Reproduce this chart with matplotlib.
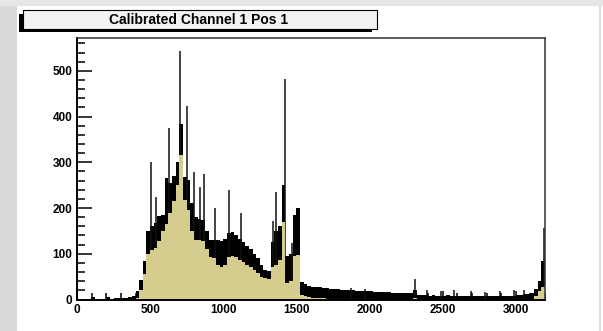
import numpy as np
import matplotlib
matplotlib.use("Agg")
import matplotlib.pyplot as plt
from matplotlib.patches import Rectangle
from matplotlib.ticker import MultipleLocator

# ===================================
# data (25-unit bins from 0 to 3200)
# ===================================
title = "Calibrated Channel 1 Pos 1"
bin_width = 25

# top of the black (fluctuating) band
upper = [0, 0, 0, 0, 5, 0, 0, 0, 6, 0,
         3, 3, 4, 4, 5, 8,
         18, 43, 85, 150,
         160, 168, 182, 185, 265, 255, 270, 300, 383, 269,
         262, 210, 180, 175, 174, 150, 130, 130, 130, 128,
         132, 145, 148, 142, 132, 125, 118, 110, 100, 90,
         75, 65, 62, 125, 150, 160, 250, 95, 100, 185,
         200, 38, 33, 30,
         28, 27, 27, 26, 25, 24, 23,
         22, 21, 21, 20, 20, 19, 19, 18, 18, 18,
         17, 17, 16, 16, 16, 15, 15, 15, 14, 14, 14,
         20,
         10, 9, 9, 8, 9, 8, 8, 8, 9, 8, 8, 7, 8, 8, 7,
         8, 8, 8, 7, 8, 7, 8, 8, 7, 8, 7, 8, 9, 10, 11,
         12, 15, 22, 40, 85]

# top of the filled (khaki) part
lower = [0, 0, 0, 0, 0, 0, 0, 0, 0, 0,
         0, 0, 0, 0, 0, 0,
         3, 20, 55, 100,
         108, 112, 128, 150, 165, 190, 215, 250, 317, 218,
         196, 150, 130, 130, 128, 110, 94, 90, 75, 72,
         75, 92, 95, 92, 87, 82, 75, 70, 65, 58,
         50, 47, 45, 70, 75, 87, 170, 35, 40, 95,
         98, 10, 8, 5,
         4, 4, 3, 3, 2, 2, 2,
         1, 1, 1, 1, 1, 1, 1, 1, 1, 1,
         0, 0, 0, 0, 0, 0, 0, 0, 0, 0, 0,
         4,
         0, 0, 0, 0, 0, 0, 0, 0, 0, 0, 0, 0, 0, 0, 0,
         0, 0, 0, 0, 0, 0, 0, 0, 0, 0, 0, 0, 0, 0, 0,
         0, 0, 8, 18, 27]

# single-bin spikes
spike_x = [100, 205, 505, 540, 629, 704, 750, 802, 841, 868, 944, 1042, 1121,
           1342, 1361, 1423, 1470, 1875, 1970, 2312, 2396, 2491, 2580, 2694,
           2792, 2892, 2990, 3058, 3192]
spike_y = [6, 6, 300, 225, 375, 543, 423, 278, 247, 275, 200, 240, 190,
           171, 236, 483, 124, 26, 24, 45, 20, 18, 20, 18,
           17, 18, 20, 20, 156]

x_max = 3200
y_max = 572

edges = np.arange(len(upper) + 1) * bin_width
khaki = "#d4cd8e"

# ===================================
# figure
# ===================================
W, H = 603, 331
fig = plt.figure(figsize=(W / 100, H / 100), dpi=100)
fig.patch.set_facecolor("white")


def box(x0, y0, x1, y1, **kw):
    # pixel box (top-left origin) -> figure rectangle
    r = Rectangle((x0 / W, 1 - y1 / H), (x1 - x0) / W, (y1 - y0) / H,
                  transform=fig.transFigure, **kw)
    fig.patches.append(r)
    return r


# canvas frame bits
box(0, 0, 17, H, facecolor="#dadada", edgecolor="none", zorder=0)
box(0, 0, W, 6, facecolor="#e6e6e6", edgecolor="none", zorder=0)
box(599, 6, 601, H, facecolor="#dcdcdc", edgecolor="none", zorder=0)

# title box with shadow
box(19, 13.5, 372, 31.5, facecolor="black", edgecolor="none", zorder=1)
box(23, 9.6, 377, 29, facecolor="#f2f2f2", edgecolor="black", lw=0.8, zorder=2)
fig.text(199 / W, 1 - 19.5 / H, title, ha="center", va="center",
         fontsize=10, fontweight="bold", family="Liberation Sans", zorder=3)

ax = fig.add_axes([77 / W, 1 - 299.5 / H, (545 - 77) / W, (299.5 - 38) / H])

ax.stairs(upper, edges, fill=True, color="black", lw=0, zorder=1)
ax.vlines(spike_x, 0, spike_y, color="#111111", lw=1.1, zorder=1.5)
ax.stairs(lower, edges, fill=True, color=khaki, lw=0, zorder=2)

ax.set_xlim(0, x_max)
ax.set_ylim(0, y_max)

ax.xaxis.set_major_locator(MultipleLocator(500))
ax.xaxis.set_minor_locator(MultipleLocator(100))
ax.yaxis.set_major_locator(MultipleLocator(100))
ax.yaxis.set_minor_locator(MultipleLocator(20))

ax.tick_params(which="both", direction="in", top=False, right=False,
               width=1.1, color="black", labelsize=8.5, pad=3.2)
ax.tick_params(axis="y", which="major", length=10.8)
ax.tick_params(axis="y", which="minor", length=5.8)
ax.tick_params(axis="x", which="major", length=6.5)
ax.tick_params(axis="x", which="minor", length=5)

for lab in ax.get_xticklabels() + ax.get_yticklabels():
    lab.set_fontweight("bold")
    lab.set_family("Liberation Sans")

for side in ["left", "bottom"]:
    ax.spines[side].set_linewidth(1.4)
    ax.spines[side].set_color("black")
for side in ["top", "right"]:
    ax.spines[side].set_linewidth(1.1)
    ax.spines[side].set_color("#333333")

fig.savefig("out.png", dpi=100)
